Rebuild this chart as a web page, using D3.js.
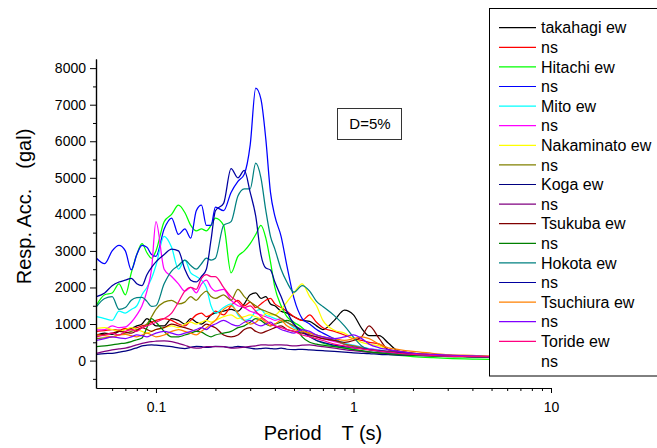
<!DOCTYPE html>
<html><head><meta charset="utf-8">
<script src="https://cdn.jsdelivr.net/npm/d3@7"></script>
<style>
html,body{margin:0;padding:0;background:#fff;}
svg{display:block;font-family:"Liberation Sans",Arial,sans-serif;}
</style></head><body>
<svg id="chart" width="657" height="448"></svg>
<script>
// Periods (s) shared by all series
const periods = [0.05,0.055,0.06,0.065,0.07,0.075,0.08,0.085,0.09,0.095,
  0.1,0.11,0.12,0.13,0.14,0.15,0.16,0.17,0.18,0.19,0.2,
  0.22,0.24,0.26,0.28,0.3,0.32,0.34,0.36,0.38,0.4,
  0.43,0.46,0.5,0.55,0.6,0.65,0.7,0.8,0.9,
  1.0,1.1,1.2,1.35,1.5,1.7,2.0,2.5,3,4,5,7,10];

// Response acceleration (gal), D = 5%
const takahagiEW = [700,750,720,800,850,880,950,1000,1150,1050,
  950,950,1150,1100,1000,1150,1050,1000,1100,1250,1300,
  1350,1400,1350,1550,1800,1850,1700,1750,1550,1500,
  1350,1300,1200,1100,1070,950,850,1100,1380,
  1250,880,680,680,480,250,200,160,140,120,110,100,90];
const takahagiNS = [800,820,850,830,880,850,900,950,980,1050,
  1100,1150,1100,1000,950,1100,1250,1300,1200,1250,1350,
  1250,1500,1650,1500,1600,1450,1550,1650,1700,1550,
  1450,1350,1200,1100,1250,1050,900,800,700,
  600,550,500,450,300,250,200,160,140,120,110,100,90];
const hitachiEW = [1520,1800,1850,2100,1800,2400,2900,3200,2950,2800,
  3000,3800,4000,4250,4050,3700,3550,3600,3550,3700,3900,
  3700,2400,2850,3000,3200,3450,3700,3350,2700,2000,
  1500,1200,1050,900,700,550,480,400,350,
  300,260,230,200,170,140,110,80,60,40,30,25,20];
const hitachiNS = [2800,2650,3000,3150,3000,2480,2900,3150,3100,2900,
  2850,3600,3900,3450,3600,3350,4100,4250,3700,3700,4200,
  4100,4600,4900,5100,5900,7450,7150,6050,4600,3950,
  3400,2600,1700,1150,1000,850,750,600,450,
  380,350,320,280,250,220,180,150,120,110,100,100,90];
const mitoEW = [1200,1150,1100,1350,1300,1400,1500,1800,2000,2250,
  2600,3400,3100,2500,2750,2400,2300,2200,2000,1500,1300,
  1450,1550,1250,1100,1150,1350,1400,1250,1200,1150,
  1100,1050,900,780,700,650,620,560,480,
  420,370,330,290,250,220,180,150,130,110,100,90,80];
const mitoNS = [840,850,950,900,920,1050,1250,1500,1900,2500,
  3800,2500,2300,2100,1900,2000,1850,2100,2200,2000,1900,
  1950,1650,1500,1450,1350,1300,1250,1200,1150,1100,
  1150,1050,950,800,700,650,600,520,450,
  400,360,320,280,250,220,180,150,130,110,100,90,80];
const nakaminatoEW = [880,900,850,800,850,900,850,800,750,800,
  850,900,950,900,1000,1050,1000,1050,1100,1050,1100,
  1200,1250,1150,1200,1250,1200,1150,1300,1250,1250,
  1400,1600,1850,2100,1750,1500,1100,830,750,
  600,500,450,400,300,250,200,160,140,120,110,100,90];
const nakaminatoNS = [600,620,650,700,750,800,850,900,1000,1200,
  1400,1600,1650,1550,1600,1750,1650,1800,1900,1750,1700,
  1800,1650,1950,1750,1600,1500,1400,1350,1300,1250,
  1150,1050,950,850,750,700,650,550,450,
  400,350,300,270,250,220,180,150,130,110,100,90,80];
const kogaEW = [170,190,200,230,260,300,350,400,420,430,
  420,400,380,350,330,360,390,380,360,370,390,
  380,360,390,370,340,320,330,340,330,320,
  340,310,300,310,290,280,270,250,230,
  210,200,190,170,160,150,140,130,120,110,100,95,90];
const kogaNS = [200,250,290,320,340,380,430,470,500,520,
  530,540,520,470,420,360,340,350,380,380,385,
  380,340,350,370,390,400,430,430,420,430,
  430,420,400,420,430,400,380,340,300,
  270,250,230,210,190,170,150,130,120,110,100,95,90];
const tsukubaEW = [700,720,750,800,780,750,820,900,850,800,
  850,900,1000,950,900,850,800,900,1000,950,900,
  700,650,700,850,900,800,750,800,850,900,
  950,850,800,750,700,650,600,550,500,
  550,650,950,600,300,250,200,160,140,120,110,100,90];
const tsukubaNS = [380,400,430,460,480,520,570,620,900,1150,
  1050,800,650,650,700,750,800,780,700,650,700,
  750,800,900,950,1050,1150,1100,1000,950,1000,
  1050,1100,1000,650,500,450,420,380,340,
  300,270,240,210,190,170,150,130,110,100,90,80,70];
const hokotaEW = [1480,1700,1750,1400,1450,1650,1720,1730,1620,1480,
  1500,2100,2450,2600,2750,2600,2500,2650,2800,2750,2800,
  3700,3800,4500,4700,4700,5400,5000,4100,3400,3050,
  2500,2150,1870,2050,1900,1620,1480,1230,950,
  640,400,300,250,220,200,170,140,120,110,100,90,80];
const hokotaNS = [1750,1850,2050,2150,2200,2250,2100,2050,2350,2550,
  2700,2900,3050,3000,2500,2200,2150,2300,2500,3300,4100,
  4300,5250,5000,5200,4600,3950,2900,2530,2480,2150,
  1750,1350,1000,800,650,550,500,420,380,
  350,330,300,270,240,210,180,150,130,110,100,90,80];
const tsuchiuraEW = [700,680,650,700,720,680,650,700,750,700,
  650,700,800,850,800,750,700,800,900,1000,1100,
  1400,1500,1300,1100,1000,1050,1150,1050,950,1000,
  1100,950,850,800,750,700,650,600,550,
  600,650,600,450,350,300,250,200,160,140,120,110,100];
const tsuchiuraNS = [550,600,650,620,600,650,700,680,650,700,
  750,800,750,700,750,800,850,900,850,950,1000,
  1100,1000,950,1050,1100,1000,950,1000,1050,950,
  850,800,750,850,800,700,650,600,650,
  700,600,450,350,300,250,200,170,150,130,110,100,90];
const torideEW = [650,700,750,700,800,850,800,900,950,1000,
  1050,1150,1300,1600,1900,2000,1950,2250,2350,2300,2300,
  2000,1750,1600,1450,1500,1350,1200,1100,1000,950,
  900,850,800,700,650,600,550,450,400,
  350,320,290,260,230,200,170,140,120,110,100,90,80];
const torideNS = [600,620,650,640,660,700,720,750,780,800,
  850,900,950,1000,980,950,1000,1050,1100,1050,1000,
  950,900,950,1000,950,900,850,800,780,750,
  700,680,650,600,550,500,480,420,380,
  350,320,300,270,240,210,180,150,130,110,100,90,80];

const seriesNames = ["takahagi ew","ns","Hitachi ew","ns","Mito ew","ns","Nakaminato ew","ns",
  "Koga ew","ns","Tsukuba ew","ns","Hokota ew","ns","Tsuchiura ew","ns","Toride ew","ns"];
const seriesValues = [takahagiEW,takahagiNS,hitachiEW,hitachiNS,mitoEW,mitoNS,nakaminatoEW,nakaminatoNS,
  kogaEW,kogaNS,tsukubaEW,tsukubaNS,hokotaEW,hokotaNS,tsuchiuraEW,tsuchiuraNS,torideEW,torideNS];
const seriesColors = ["#000000","#ff0000","#00ff00","#0000ff","#00ffff","#ff00ff","#ffff00","#808000",
  "#000080","#800080","#800000","#008000","#008080","#0000a0","#ff8000","#8000ff","#ff0080","#ffffff"];

const yMajorTicks = [0,1000,2000,3000,4000,5000,6000,7000,8000];
const yMinorTicks = [-500,500,1500,2500,3500,4500,5500,6500,7500];
const xMajorTicks = [0.1,1,10];
const xMinorTicks = [0.06,0.07,0.08,0.09,0.2,0.3,0.4,0.5,0.6,0.7,0.8,0.9,2,3,4,5,6,7,8,9];
const xTitle = "Period\u3000T (s)";
const yTitle = "Resp. Acc.\u3000(gal)";
const dampingLabel = "D=5%";

const svg = d3.select("#chart");
svg.append("rect").attr("width",657).attr("height",448).attr("fill","#fff");

const x = d3.scaleLog().domain([0.05,10]).range([96.5,551]);
const y = d3.scaleLinear().domain([-750,8250]).range([388,59]);

// curves (white series first so it stays hidden)
const line = d3.line().x((d,i)=>x(periods[i])).y(d=>y(d)).curve(d3.curveMonotoneX);
const order = [17].concat(d3.range(0,17));
const g = svg.append("g");
order.forEach(k=>{
  g.append("path").datum(seriesValues[k]).attr("d",line)
    .attr("fill","none").attr("stroke",seriesColors[k]).attr("stroke-width",1.25)
    .attr("stroke-linejoin","round");
});

// axes
function styleAxis(sel){
  sel.selectAll("path.domain").attr("stroke","#000").attr("stroke-width",1.2);
  sel.selectAll(".tick line").attr("stroke","#000").attr("stroke-width",1);
  sel.selectAll("text").attr("fill","#000").attr("font-size",14)
    .attr("font-family",'"Liberation Sans",Arial,sans-serif');
}
const xa1 = svg.append("g").attr("transform","translate(0,388)")
  .call(d3.axisBottom(x).tickValues(xMinorTicks).tickSize(3).tickSizeOuter(0).tickFormat(""));
styleAxis(xa1);
const xa2 = svg.append("g").attr("transform","translate(0,388)")
  .call(d3.axisBottom(x).tickValues(xMajorTicks).tickSize(5).tickSizeOuter(0).tickPadding(9).tickFormat(d=>String(d)));
styleAxis(xa2);
const ya1 = svg.append("g").attr("transform","translate(96,0)")
  .call(d3.axisLeft(y).tickValues(yMinorTicks).tickSize(3).tickSizeOuter(0).tickFormat(""));
styleAxis(ya1);
const ya2 = svg.append("g").attr("transform","translate(96,0)")
  .call(d3.axisLeft(y).tickValues(yMajorTicks).tickSize(6).tickSizeOuter(0).tickPadding(4).tickFormat(d=>String(d)));
styleAxis(ya2);

// titles
svg.append("text").attr("x",323).attr("y",439.5).attr("text-anchor","middle")
  .attr("font-size",20).attr("fill","#000").text(xTitle);
svg.append("text").attr("transform","translate(30.5,206.5) rotate(-90)").attr("text-anchor","middle")
  .attr("font-size",20).attr("fill","#000").text(yTitle);

// damping box
svg.append("rect").attr("x",337.5).attr("y",108.5).attr("width",64).attr("height",31)
  .attr("fill","#fff").attr("stroke","#333").attr("stroke-width",1);
svg.append("text").attr("x",370).attr("y",124).attr("dy","0.35em").attr("text-anchor","middle")
  .attr("font-size",15).attr("fill","#000").text(dampingLabel);

// legend
const lg = svg.append("g");
lg.append("rect").attr("x",489.5).attr("y",8.5).attr("width",180).attr("height",367.5)
  .attr("fill","#fff").attr("stroke","#000").attr("stroke-width",1);
seriesNames.forEach((name,i)=>{
  const yy = 27.7 + 19.6*i;
  lg.append("line").attr("x1",499).attr("x2",536).attr("y1",yy).attr("y2",yy)
    .attr("stroke",seriesColors[i]).attr("stroke-width",1.2);
  lg.append("text").attr("x",541).attr("y",yy).attr("dy","0.36em")
    .attr("font-size",16).attr("fill","#000").text(name);
});
</script>
</body></html>
